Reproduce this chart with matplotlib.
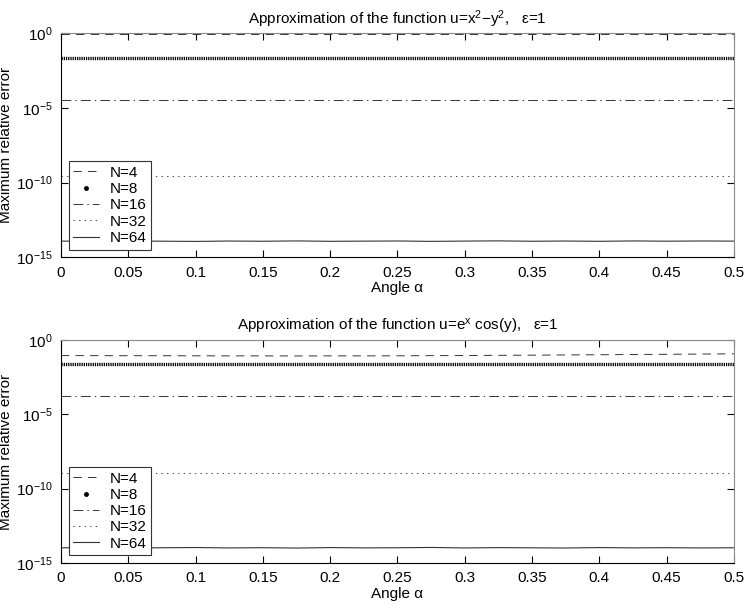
import numpy as np
import matplotlib
matplotlib.use("Agg")
import matplotlib.pyplot as plt
from matplotlib.lines import Line2D
from matplotlib.ticker import FixedLocator, LogFormatterMathtext

plt.rcParams["font.family"] = ["Liberation Sans", "DejaVu Sans"]
plt.rcParams["mathtext.fontset"] = "custom"
plt.rcParams["mathtext.rm"] = "Liberation Sans"
plt.rcParams["mathtext.it"] = "Liberation Sans:italic"
plt.rcParams["font.size"] = 11
plt.rcParams["lines.scale_dashes"] = False

# =========================
# Data
# =========================
alpha = [0.0, 0.025, 0.05, 0.075, 0.1, 0.125, 0.15, 0.175, 0.2, 0.225, 0.25,
         0.275, 0.3, 0.325, 0.35, 0.375, 0.4, 0.425, 0.45, 0.475, 0.5]

labels = ["N=4", "N=8", "N=16", "N=32", "N=64"]

# u = x^2 - y^2
top_n4 = [0.88] * 21
top_n8 = [0.022] * 21
top_n16 = [3.7e-5] * 21
top_n32 = [2.6e-10] * 21
top_n64 = [1.20e-14, 1.15e-14, 1.22e-14, 1.18e-14, 1.14e-14, 1.21e-14, 1.17e-14,
           1.23e-14, 1.16e-14, 1.19e-14, 1.22e-14, 1.15e-14, 1.20e-14, 1.24e-14,
           1.17e-14, 1.21e-14, 1.16e-14, 1.23e-14, 1.18e-14, 1.22e-14, 1.19e-14]

# u = e^x cos(y)
bot_n4 = [0.088, 0.087, 0.086, 0.086, 0.085, 0.084, 0.084, 0.083, 0.084, 0.084,
          0.085, 0.087, 0.089, 0.091, 0.094, 0.097, 0.100, 0.104, 0.107, 0.111, 0.115]
bot_n8 = [0.024] * 21
bot_n16 = [1.7e-4] * 21
bot_n32 = [1.1e-9] * 21
bot_n64 = [1.05e-14, 1.08e-14, 1.02e-14, 1.06e-14, 1.10e-14, 1.03e-14, 1.07e-14,
           1.01e-14, 1.09e-14, 1.04e-14, 1.06e-14, 1.11e-14, 1.03e-14, 1.08e-14,
           1.05e-14, 1.02e-14, 1.09e-14, 1.04e-14, 1.07e-14, 1.03e-14, 1.06e-14]

x_ticks = [0, 0.05, 0.1, 0.15, 0.2, 0.25, 0.3, 0.35, 0.4, 0.45, 0.5]
x_ticklabels = ["0", "0.05", "0.1", "0.15", "0.2", "0.25", "0.3", "0.35", "0.4", "0.45", "0.5"]
y_ticks = [1e-15, 1e-10, 1e-5, 1e0]

titles = [r"Approximation of the function u=x$^{2}$$-$y$^{2}$,   ε=1",
          r"Approximation of the function u=e$^{\mathrm{x}}$ cos(y),   ε=1"]

# =========================
# Styles
# =========================
styles = [
    dict(color="#333333", lw=0.7, linestyle=(0, (6, 4.5))),
    dict(color="black", lw=2.4, linestyle=(0, (0.9, 0.7))),
    dict(color="#333333", lw=0.7, linestyle=(0, (7, 3, 1, 3))),
    dict(color="#444444", lw=0.7, linestyle=(0, (1, 3))),
    dict(color="#333333", lw=0.8, linestyle="-"),
]

fig = plt.figure(figsize=(7.52, 6.08), dpi=100)
ax1 = fig.add_axes([0.081, 0.577, 0.895, 0.368])
ax2 = fig.add_axes([0.081, 0.074, 0.895, 0.367])

series = [
    [top_n4, top_n8, top_n16, top_n32, top_n64],
    [bot_n4, bot_n8, bot_n16, bot_n32, bot_n64],
]

for ax, data, title in zip([ax1, ax2], series, titles):
    for vals, st in zip(data, styles):
        ax.semilogy(alpha, vals, solid_capstyle="butt", dash_capstyle="butt", **st)
    ax.set_xlim(0, 0.5)
    ax.set_ylim(1e-15, 1)
    ax.set_xticks(x_ticks)
    ax.set_xticklabels(x_ticklabels)
    ax.yaxis.set_major_locator(FixedLocator(y_ticks))
    ax.yaxis.set_major_formatter(LogFormatterMathtext())
    ax.yaxis.set_minor_locator(FixedLocator([]))
    ax.tick_params(direction="in", top=True, right=True, length=5, width=0.8,
                   labelsize=11, pad=6)
    for side in ["top", "right"]:
        ax.spines[side].set_color("#888888")
    for side in ["left", "bottom"]:
        ax.spines[side].set_color("black")
    ax.set_xlabel("Angle α", labelpad=1)
    ax.set_ylabel("Maximum relative error", labelpad=2)
    ax.set_title(title, fontsize=11, pad=7)

    handles = [
        Line2D([], [], **styles[0]),
        Line2D([], [], color="black", marker=".", markersize=5, linestyle="none"),
        Line2D([], [], **styles[2]),
        Line2D([], [], color="#444444", lw=0.7, linestyle=(0, (1, 3))),
        Line2D([], [], **styles[4]),
    ]
    leg = ax.legend(handles, labels, loc="lower left", fancybox=False,
                    edgecolor="#333333", framealpha=1, borderaxespad=0.5,
                    handlelength=1.7, handletextpad=0.7, labelspacing=0.15,
                    borderpad=0.3, fontsize=11)
    leg.get_frame().set_linewidth(0.8)

fig.savefig("out.png", dpi=100)
